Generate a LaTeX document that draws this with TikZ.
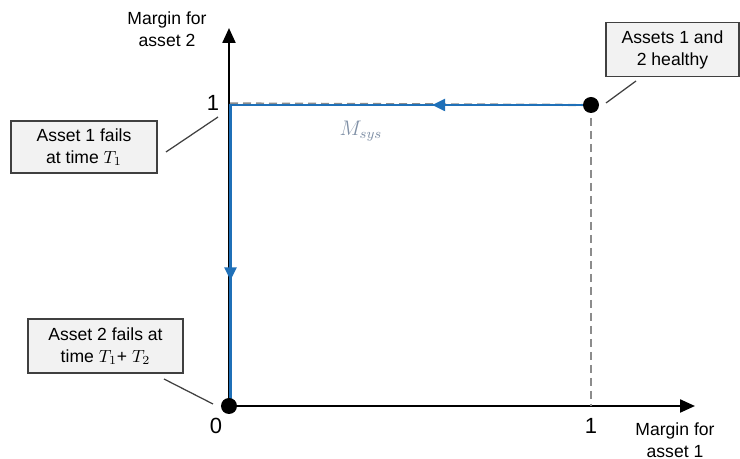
\documentclass[tikz,border=0pt]{standalone}
\usepackage{fontspec}
\setmainfont{Liberation Sans}
\usetikzlibrary{arrows.meta, decorations.markings}
\definecolor{pathblue}{RGB}{31, 112, 184}
\definecolor{boxgray}{RGB}{242, 242, 242}
\definecolor{msysgray}{RGB}{128, 144, 166}
\tikzstyle{callout} = [rectangle, draw=black!75, fill=boxgray,
                       text centered, align=center, inner sep=0pt,
                       font=\fontsize{10}{12.5}\selectfont, line width=0.25mm]
\tikzstyle{axislabel} = [align=center, font=\fontsize{10}{12.5}\selectfont]
\tikzstyle{ticklabel} = [font=\fontsize{12.5}{14}\selectfont]
\tikzstyle{axis} = [line width=0.45mm, -{Triangle[length=3mm,width=2.6mm]}]
\tikzstyle{leader} = [draw=black!75, line width=0.25mm]
\tikzstyle{guide} = [draw=black!45, line width=0.45mm, dash pattern=on 1.6mm off 1mm]
\tikzstyle{dot} = [circle, fill=black, inner sep=0pt, minimum size=3.2mm]

\begin{document}
\begin{tikzpicture}
    \useasboundingbox (-4.58,-1.06) rectangle (10.22,8.12);

    \coordinate (O) at (0,0);
    \coordinate (P) at (7.24,6.02);
    \coordinate (C) at (0.03,6.02);
    \coordinate (Ob) at (0.03,0);

    %Axes
    \draw [axis] (O) -- (9.32,0);
    \draw [axis] (O) -- (0,7.56);
    \node (xname) [axislabel] at (8.92,-0.68) {Margin for\\asset 1};
    \node (yname) [axislabel] at (-1.24,7.54) {Margin for\\asset 2};
    \node (zero) [ticklabel] at (-0.26,-0.39) {0};
    \node (xone) [ticklabel] at (7.24,-0.39) {1};
    \node (yone) [ticklabel] at (-0.32,6.06) {1};

    %Guides to the point (1,1)
    \draw [guide] (0.02,6.05) -- (P);
    \draw [guide] (P) -- (7.24,0);

    %Path of the system margin
    \draw [pathblue, line width=0.5mm, postaction={decorate},
           decoration={markings,
             mark=at position 0.24 with {\arrow{Triangle[length=2.6mm,width=2.4mm]}},
             mark=at position 0.81 with {\arrow{Triangle[length=2.6mm,width=2.4mm]}}}]
        (P) -- (C) -- (Ob);
    \node (msys) [text=msysgray, font=\large] at (2.64,5.5) {$M_{sys}$};

    \node (origin) [dot] at (O) {};
    \node (healthy) [dot] at (P) {};

    %Callouts
    \node (both) [callout, minimum width=2.66cm, minimum height=1.08cm] at (8.87,7.13)
        {Assets 1 and\\2 healthy};
    \node (fail1) [callout, minimum width=2.92cm, minimum height=1.04cm] at (-2.9,5.18)
        {Asset 1 fails\\at time $T_1$};
    \node (fail2) [callout, minimum width=3.1cm, minimum height=1.08cm] at (-2.47,1.2)
        {Asset 2 fails at\\time $T_1$+ $T_2$};

    \coordinate (bothA) at (8.14,6.5);
    \coordinate (bothB) at (7.54,6.06);
    \coordinate (fail1A) at (-1.26,5.08);
    \coordinate (fail1B) at (-0.22,5.78);
    \coordinate (fail2A) at (-1.3,0.54);
    \coordinate (fail2B) at (-0.32,0.04);
    \draw [leader] (bothA) -- (bothB);
    \draw [leader] (fail1A) -- (fail1B);
    \draw [leader] (fail2A) -- (fail2B);

\end{tikzpicture}
\end{document}
